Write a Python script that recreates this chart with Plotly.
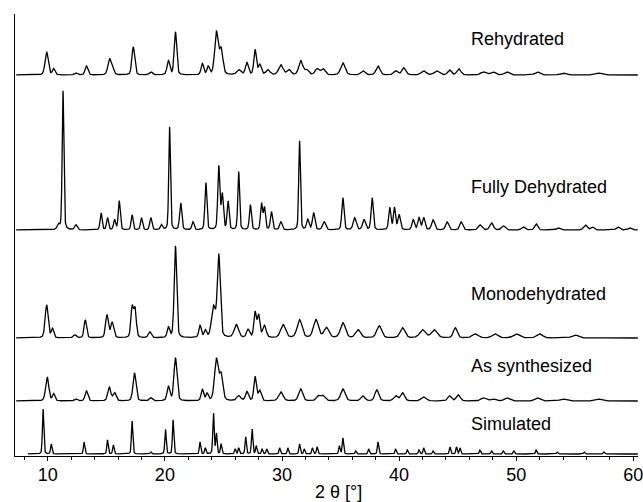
import numpy as np
import plotly.graph_objects as go

# ---- data (peak position [2θ], height [px-units], FWHM [°]) ----
series_names = ["Simulated", "As synthesized", "Monodehydrated", "Fully Dehydrated", "Rehydrated"]
offsets = [2, 55, 118, 226, 381]
starts = [8.3, 7.3, 7.3, 7.3, 7.3]

sim_pos = [9.6, 10.3, 13.1, 15.1, 15.6, 17.2, 18.8, 20.05, 20.7, 23.0, 23.45, 24.15, 24.4, 24.8,
           26.0, 26.3, 26.9, 27.45, 27.8, 28.3, 28.7, 29.8, 30.5, 31.5, 31.9, 32.6, 33.0, 34.9, 35.2,
           36.3, 37.4, 38.2, 39.7, 40.7, 41.7, 42.1, 42.9, 44.35, 44.9, 45.2, 46.9, 47.9, 48.9, 49.8, 51.7,
           53.5, 55.8, 57.5]
sim_h = [45, 10, 12, 14, 9, 33, 2, 25, 34, 12, 6, 41, 20, 10,
         5, 6, 17, 25, 8, 5, 5, 6, 6, 10, 5, 6, 7, 8, 16,
         3, 5, 12, 5, 4, 4, 6, 3, 7, 7, 6, 4, 3, 3, 3, 4,
         2, 2, 2]
sim_w = [0.14] * len(sim_pos)

syn_pos = [9.95, 10.5, 12.4, 13.3, 15.25, 15.7, 17.4, 18.8, 20.3, 20.9, 23.2, 23.6, 24.4, 24.8,
           26.3, 27.0, 27.7, 28.1, 29.9, 31.6, 33.1, 33.5, 35.2, 36.9, 38.1, 39.7, 40.3, 42.1, 44.3, 45.05,
           47.2, 48.0, 49.2, 51.8, 54.0, 57.0]
syn_h = [24, 7, 2, 10, 14, 8, 28, 3, 14, 43, 11, 7, 41, 25,
         5, 9, 24, 10, 9, 12, 5, 5, 12, 5, 11, 5, 8, 4, 5, 6,
         3, 2, 3, 3, 2, 2]
syn_w = [0.32, 0.25, 0.3, 0.28, 0.3, 0.3, 0.3, 0.3, 0.28, 0.3, 0.25, 0.25, 0.38, 0.35,
         0.4, 0.3, 0.25, 0.3, 0.45, 0.4, 0.4, 0.4, 0.45, 0.4, 0.4, 0.4, 0.4, 0.5, 0.35, 0.4,
         0.5, 0.5, 0.5, 0.5, 0.6, 0.6]

mono_pos = [9.9, 10.4, 12.3, 13.2, 15.05, 15.5, 17.2, 17.45, 18.7, 20.3, 20.9, 23.0, 23.45, 24.15, 24.6,
            26.1, 27.1, 27.7, 28.0, 28.5, 30.1, 31.5, 32.9, 33.8, 35.2, 36.5, 38.3, 40.3, 42.0, 43.0,
            44.8, 46.5, 48.2, 50.0, 52.0, 55.0]
mono_h = [33, 9, 3, 18, 23, 15, 30, 28, 6, 10, 92, 12, 7, 30, 82,
          13, 8, 25, 22, 12, 13, 18, 18, 10, 15, 8, 12, 10, 8, 8,
          10, 4, 4, 4, 4, 3]
mono_w = [0.3, 0.25, 0.3, 0.25, 0.28, 0.3, 0.25, 0.25, 0.3, 0.25, 0.25, 0.25, 0.25, 0.4, 0.3,
          0.45, 0.3, 0.25, 0.25, 0.35, 0.5, 0.5, 0.5, 0.5, 0.5, 0.5, 0.5, 0.5, 0.6, 0.6,
          0.4, 0.6, 0.6, 0.6, 0.6, 0.6]

fd_pos = [10.9, 11.3, 12.4, 14.55, 15.1, 15.7, 16.1, 17.2, 18.0, 18.8, 19.7, 20.4, 21.35, 22.4, 23.5,
          24.6, 24.9, 25.4, 26.3, 27.3, 28.25, 28.5, 29.1, 29.9, 31.5, 32.2, 32.7, 33.6, 35.2, 36.2,
          37.0, 37.7, 39.2, 39.6, 40.0, 41.2, 41.7, 42.1, 42.9, 44.1, 45.3, 46.9, 47.9, 48.9, 50.6,
          51.7, 53.6, 55.9, 56.5, 58.7, 59.7]
fd_h = [5, 139, 5, 17, 12, 10, 29, 15, 12, 12, 5, 103, 27, 8, 47,
        63, 35, 28, 58, 25, 26, 22, 18, 8, 89, 10, 17, 8, 32, 12,
        10, 32, 22, 22, 15, 10, 12, 12, 10, 8, 8, 5, 7, 4, 3,
        6, 2, 5, 3, 3, 2]
fd_w = [0.25, 0.17, 0.25, 0.2, 0.2, 0.2, 0.2, 0.2, 0.2, 0.22, 0.22, 0.17, 0.22, 0.22, 0.2,
        0.2, 0.22, 0.2, 0.18, 0.2, 0.2, 0.2, 0.22, 0.25, 0.17, 0.25, 0.25, 0.3, 0.22, 0.3,
        0.3, 0.22, 0.22, 0.22, 0.25, 0.25, 0.25, 0.25, 0.3, 0.3, 0.3, 0.35, 0.35, 0.35, 0.35,
        0.3, 0.35, 0.35, 0.35, 0.35, 0.35]

reh_pos = [9.9, 10.5, 12.4, 13.3, 15.25, 15.5, 17.3, 18.8, 20.3, 20.9, 23.2, 23.7, 24.4, 24.8,
           26.3, 27.0, 27.7, 28.1, 28.8, 29.9, 30.6, 31.6, 32.1, 33.0, 33.5, 35.2, 36.9, 38.2, 39.7,
           40.4, 42.1, 43.2, 44.3, 45.1, 47.2, 48.0, 49.2, 51.8, 54.0, 57.0]
reh_h = [23, 6, 2, 9, 15, 8, 28, 3, 14, 43, 11, 8, 42, 25,
         5, 12, 25, 10, 5, 10, 5, 14, 5, 6, 6, 12, 4, 9, 4,
         7, 4, 4, 5, 6, 3, 3, 3, 3, 2, 2]
reh_w = [0.32, 0.25, 0.3, 0.28, 0.3, 0.3, 0.28, 0.3, 0.28, 0.25, 0.25, 0.25, 0.35, 0.35,
         0.4, 0.3, 0.25, 0.3, 0.4, 0.45, 0.4, 0.4, 0.4, 0.4, 0.4, 0.45, 0.4, 0.4, 0.4,
         0.4, 0.5, 0.5, 0.35, 0.4, 0.5, 0.5, 0.5, 0.5, 0.6, 0.6]

peak_sets = [(sim_pos, sim_h, sim_w), (syn_pos, syn_h, syn_w), (mono_pos, mono_h, mono_w),
             (fd_pos, fd_h, fd_w), (reh_pos, reh_h, reh_w)]

x_ticks = [10, 20, 30, 40, 50, 60]


def pattern(x, pos, h, w, eta=0.3):
    y = np.zeros_like(x)
    for p, a, f in zip(pos, h, w):
        hw = f / 2.0
        g = np.exp(-np.log(2) * ((x - p) / hw) ** 2)
        l = 1.0 / (1.0 + ((x - p) / hw) ** 2)
        y += a * ((1 - eta) * g + eta * l)
    return y


fig = go.Figure()
for name, off, x0, (pos, h, w) in zip(series_names, offsets, starts, peak_sets):
    xx = np.arange(x0, 60.4, 0.02)
    yy = off + pattern(xx, pos, h, w)
    fig.add_trace(go.Scatter(x=xx, y=yy, mode="lines", name=name,
                             line=dict(color="black", width=1.3), hoverinfo="skip"))

font = dict(family="Liberation Sans, Arial, Helvetica, sans-serif", size=18, color="black")

label_y = [32, 90, 162, 269, 417]
for name, ly in zip(series_names, label_y):
    fig.add_annotation(x=45.95, y=ly, xref="x", yref="y", text=name, showarrow=False,
                       xanchor="left", yanchor="middle", font=font)

fig.add_annotation(x=(341 - 15) / 628, y=-0.082, xref="paper", yref="paper", text="2 θ [°]",
                   showarrow=False, xanchor="center", yanchor="middle", font=font)

xaxis = dict(range=[7.2, 60.4], tickvals=x_ticks, ticks="outside", ticklen=4, tickwidth=1,
             tickcolor="black", showline=True, linecolor="black", linewidth=1.3,
             showgrid=False, zeroline=False, tickfont=font, ticklabeloverflow="allow",
             minor=dict(dtick=2, ticks="outside", ticklen=3, tickcolor="black", showgrid=False))

fig.update_layout(
    width=643, height=502,
    margin=dict(l=15, r=0, t=14, b=46),
    paper_bgcolor="white", plot_bgcolor="white",
    showlegend=False,
    font=font,
    xaxis=xaxis,
    yaxis=dict(range=[0, 442], showticklabels=False, ticks="", showline=True, linecolor="black",
               linewidth=1.3, showgrid=False, zeroline=False),
)
try:
    fig.update_xaxes(ticklabelstandoff=-2)
except Exception:
    pass

fig.write_html("out.html", config={"displayModeBar": False, "staticPlot": True},
               post_script="document.body.style.margin='0px';document.body.style.overflow='hidden';")
